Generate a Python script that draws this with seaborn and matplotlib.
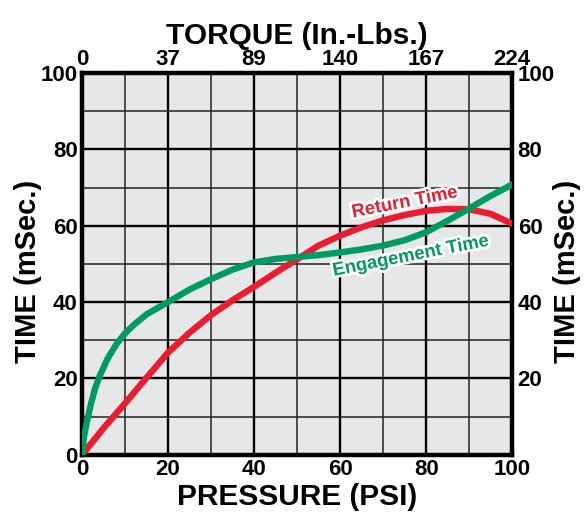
import matplotlib
matplotlib.use("Agg")
import matplotlib.pyplot as plt
import matplotlib.patheffects as pe
import seaborn as sns
import pandas as pd

# Data
pressure_eng = [0, 0.5, 1, 1.5, 2, 3, 4, 6, 8, 10, 12, 15, 20, 25, 30, 35, 40, 45, 50,
                55, 60, 65, 70, 75, 80, 85, 90, 95, 100]
engagement_time = [0, 5, 8, 10.5, 13, 17.3, 20.4, 25.3, 29, 31.8, 34, 36.8, 40, 43.3, 46,
                   48.5, 50.4, 51.3, 51.8, 52.3, 53, 53.8, 54.8, 56.2, 58.3, 61.3, 64.5, 67.8, 70.8]
pressure_ret = [0, 5, 10, 15, 20, 25, 30, 35, 40, 45, 50, 55, 60, 65, 70, 75, 80, 85, 90, 95, 100]
return_time = [0, 7, 13.5, 20.2, 26.8, 32, 36.6, 40.5, 44, 47.7, 51.2, 54.8, 57.4, 59.6,
               61.4, 62.8, 63.9, 64.4, 64.3, 63.1, 60.5]

pressure_ticks = [0, 20, 40, 60, 80, 100]
torque_labels = ["0", "37", "89", "140", "167", "224"]
time_ticks = [0, 20, 40, 60, 80, 100]
right_time_labels = ["", "20", "40", "60", "80", "100"]

GREEN = "#009b5f"
RED = "#ec1c30"
BG = "#e6e7e8"

sns.set_theme(style="white")
plt.rcParams["font.family"] = ["Liberation Sans", "DejaVu Sans"]
plt.rcParams["font.weight"] = "bold"
plt.rcParams["text.color"] = "black"
plt.rcParams["xtick.color"] = "black"
plt.rcParams["ytick.color"] = "black"

fig = plt.figure(figsize=(5.86, 5.21), dpi=100)
ax = fig.add_axes([0.140, 0.127, 0.734, 0.733])
ax.set_facecolor(BG)

df_e = pd.DataFrame({"p": pressure_eng, "t": engagement_time})
df_r = pd.DataFrame({"p": pressure_ret, "t": return_time})

ax.set_xlim(0, 100)
ax.set_ylim(0, 100)

# grid
for v in range(10, 100, 10):
    lw = 1.7 if v % 20 == 0 else 1.1
    col = "black" if v % 20 == 0 else "#222222"
    ax.axvline(v, color=col, lw=lw, zorder=1)
    ax.axhline(v, color=col, lw=lw, zorder=1)

sns.lineplot(data=df_r, x="p", y="t", ax=ax, color=RED, linewidth=4.6, zorder=3)
sns.lineplot(data=df_e, x="p", y="t", ax=ax, color=GREEN, linewidth=4.6, zorder=4)

halo = [pe.withStroke(linewidth=4, foreground="white")]
ax.text(75.0, 66.0, "Return Time", color=RED, fontsize=13.3, fontweight="bold",
        rotation=11, ha="center", va="center", zorder=5, path_effects=halo)
ax.text(76.4, 52.0, "Engagement Time", color=GREEN, fontsize=13.3, fontweight="bold",
        rotation=11, ha="center", va="center", zorder=5, path_effects=halo)

for s in ax.spines.values():
    s.set_linewidth(3.2)
    s.set_color("black")
    s.set_visible(True)

ax.set_xticks(pressure_ticks)
ax.set_xticklabels([str(v) for v in pressure_ticks])
ax.set_yticks(time_ticks)
ax.set_yticklabels([str(v) for v in time_ticks])
ax.tick_params(axis="both", length=0, labelsize=16, pad=3, labelcolor="black")
for lab in ax.get_xticklabels() + ax.get_yticklabels():
    lab.set_fontweight("bold")

ax.set_xlabel("PRESSURE (PSI)", fontsize=21.5, fontweight="bold", labelpad=2, color="black")
ax.set_ylabel("")

# top torque axis
axt = ax.twiny()
axt.set_xlim(0, 100)
axt.set_xticks(pressure_ticks)
axt.set_xticklabels(torque_labels)
axt.tick_params(axis="x", length=0, labelsize=16, pad=2, labelcolor="black")
for lab in axt.get_xticklabels():
    lab.set_fontweight("bold")
axt.set_xlabel("TORQUE (In.-Lbs.)", fontsize=21.5, fontweight="bold", labelpad=4, color="black")
for s in axt.spines.values():
    s.set_visible(False)

# right time axis
axr = ax.twinx()
axr.set_ylim(0, 100)
axr.set_yticks(time_ticks)
axr.set_yticklabels(right_time_labels)
axr.tick_params(axis="y", length=0, labelsize=16, pad=4, labelcolor="black")
for lab in axr.get_yticklabels():
    lab.set_fontweight("bold")
for s in axr.spines.values():
    s.set_visible(False)

# vertical axis titles
fig.text(28 / 586, 0.480, "TIME (mSec.)", fontsize=21, fontweight="bold", rotation=90,
         ha="center", va="center", color="black")
fig.text(567 / 586, 0.480, "TIME (mSec.)", fontsize=21, fontweight="bold", rotation=90,
         ha="center", va="center", color="black")

fig.savefig("out.png", dpi=100, facecolor="white")
